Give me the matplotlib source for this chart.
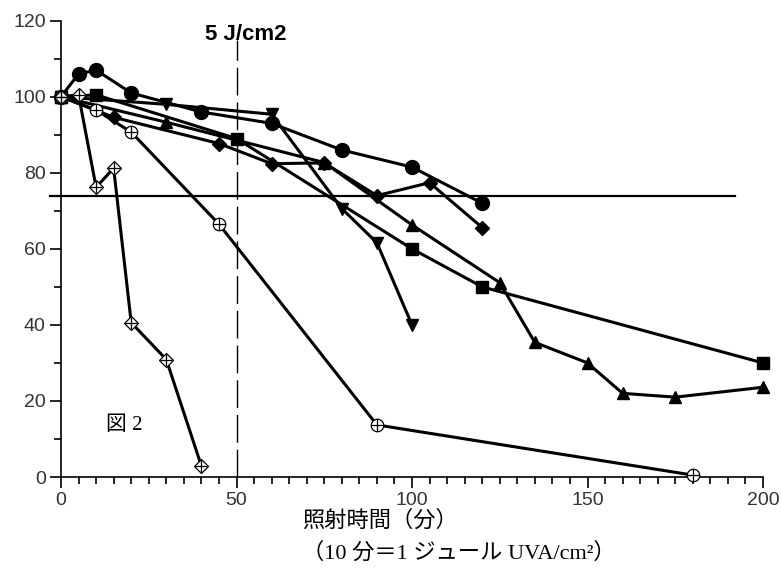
import matplotlib
matplotlib.use("Agg")
import matplotlib.pyplot as plt
from matplotlib.ticker import MultipleLocator

# ---- data ----
circ_x = [0, 5, 10, 20, 40, 60, 80, 100, 120]
circ_y = [100, 106, 107, 101, 96, 93, 86, 81.5, 72]

sq_x = [0, 10, 50, 100, 120, 200]
sq_y = [100, 100.5, 89, 60, 50, 30]

tri_x = [0, 30, 75, 100, 125, 135, 150, 160, 175, 200]
tri_y = [100, 93.3, 82.7, 66.3, 51.1, 35.4, 30, 22, 21, 23.6]

tdn_x = [0, 30, 60, 80, 90, 100]
tdn_y = [100, 98, 95.4, 70.6, 61.6, 40]

dia_x = [0, 15, 45, 60, 75, 90, 105, 120]
dia_y = [100, 94.6, 87.7, 82.4, 82.6, 74, 77.4, 65.6]

ocx_x = [0, 10, 20, 45, 90, 180]
ocx_y = [100, 96.5, 90.7, 66.5, 13.7, 0.5]

odx_x = [0, 5, 10, 15, 20, 30, 40]
odx_y = [100, 100.5, 76.2, 81.2, 40.6, 30.9, 2.9]

ref_y = 73.8
ref_x = [-3, 192]
dose_x = 50

x_ticks = [0, 50, 100, 150, 200]
y_ticks = [0, 20, 40, 60, 80, 100, 120]

fig = plt.figure(figsize=(7.81, 5.8), dpi=100)
ax = fig.add_axes([61/781, 1 - 477/580, (763-61)/781, (477-20.7)/580])
ax.set_xlim(0, 200)
ax.set_ylim(0, 120)

lw = 2.2
common = dict(color="black", lw=lw, clip_on=False, zorder=3)
ax.plot(circ_x, circ_y, marker="o", ms=10, mfc="black", mec="black", **common)
ax.plot(sq_x, sq_y, marker="s", ms=8, mfc="black", mec="black", **common)
ax.plot(tri_x, tri_y, marker="^", ms=8, mfc="black", mec="black", **common)
ax.plot(tdn_x, tdn_y, marker="v", ms=8, mfc="black", mec="black", **common)
ax.plot(dia_x, dia_y, marker="D", ms=7, mfc="black", mec="black", **common)

ax.plot(ocx_x, ocx_y, marker="o", ms=9, mfc="white", mec="black", mew=0.9, **common)
ax.plot(ocx_x, ocx_y, ls="none", marker="+", ms=9, mec="black", mew=0.9, clip_on=False, zorder=4)
ax.plot(odx_x, odx_y, marker="D", ms=7, mfc="white", mec="black", mew=0.9, **common)
ax.plot(odx_x, odx_y, ls="none", marker="+", ms=8, mec="black", mew=0.9, clip_on=False, zorder=4)

# reference lines
ax.plot(ref_x, [ref_y, ref_y], color="black", lw=1.6, clip_on=False, zorder=2)
ax.plot([dose_x, dose_x], [0, 115], color="black", lw=1.0, dashes=(20, 5), zorder=2)

# axes styling
for s in ["top", "right"]:
    ax.spines[s].set_visible(False)
for s in ["left", "bottom"]:
    ax.spines[s].set_linewidth(1.2)
ax.set_xticks(x_ticks)
ax.set_yticks(y_ticks)
ax.xaxis.set_minor_locator(MultipleLocator(5))
ax.yaxis.set_minor_locator(MultipleLocator(10))
ax.tick_params(which="major", direction="out", length=8, width=1.2,
               labelsize=14, labelcolor="#333333", pad=3)
ax.tick_params(which="minor", direction="out", length=5, width=1.2)
for lab in ax.get_xticklabels() + ax.get_yticklabels():
    lab.set_family("Liberation Sans")

ax.text(52.5, 116.5, "5 J/cm2", fontsize=16, fontweight="bold",
        family="Liberation Sans", ha="center", va="center")
ax.text(18.0, 13.5, "図 2", fontsize=15, family=["Liberation Serif", "Noto Sans CJK JP"],
        ha="center", va="center")

fig.text(380/781, 1 - 521/580, "照射時間（分）", fontsize=16,
         family=["Liberation Serif", "Noto Sans CJK JP"], ha="center", va="center")
fig.text(459/781, 1 - 553/580, "（10 分＝1 ジュール UVA/cm²）", fontsize=16,
         family=["Liberation Serif", "Noto Sans CJK JP"], ha="center", va="center")

fig.savefig("out.png", dpi=100)
